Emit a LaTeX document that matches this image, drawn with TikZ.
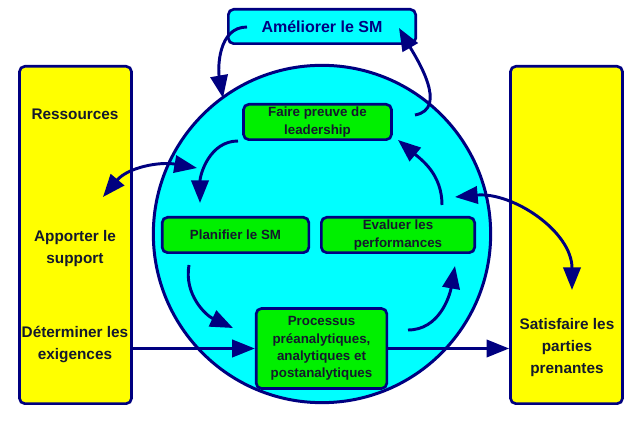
\documentclass[tikz,border=0pt]{standalone}
\usepackage{fontspec}
\setmainfont{Liberation Sans}
\usetikzlibrary{arrows.meta}
\definecolor{bleunuit}{RGB}{0,0,128}
\definecolor{cyanfond}{RGB}{0,255,255}
\definecolor{jaunefond}{RGB}{255,255,0}
\definecolor{vertfond}{RGB}{0,240,0}
\definecolor{textefonce}{RGB}{20,25,45}

\tikzset{
colonne/.style={draw=bleunuit,line width=2pt,fill=jaunefond,rounded corners=4pt,minimum width=84pt,minimum height=253pt},
etape/.style={draw=bleunuit,line width=2pt,fill=vertfond,rounded corners=4pt,minimum height=26.5pt,inner sep=2pt,align=center,text=textefonce,font=\fontsize{10}{13}\selectfont\bfseries},
libelle/.style={align=center,text=textefonce,font=\fontsize{11.5}{16.5}\selectfont\bfseries},
fleche/.style={draw=bleunuit,line width=2.2pt,-{Triangle[length=17pt,width=13pt]}},
doublefleche/.style={draw=bleunuit,line width=2.2pt,{Triangle[length=17pt,width=13pt]}-{Triangle[length=17pt,width=13pt]}}
}

\begin{document}
\begin{tikzpicture}[x=0.75pt,y=0.75pt]
\useasboundingbox (0,0) rectangle (637,421);

\node [colonne] (gauche) at (75.5,186) {};
\node [colonne] (droite) at (566.5,186) {};
\node [draw=bleunuit,line width=2.25pt,fill=cyanfond,circle,minimum size=253pt] (cercle) at (322,187) {};
\node [draw=bleunuit,line width=2pt,fill=cyanfond,rounded corners=4pt,minimum width=140.5pt,minimum height=25.75pt,text=bleunuit,font=\fontsize{12}{14}\selectfont\bfseries] (ameliorer) at (322,394.5) {Améliorer le SM};

\node [libelle] (ressources) at (75,307) {Ressources};
\node [libelle] (support) at (75,172) {Apporter le\\support};
\node [libelle] (exigences) at (75,76) {Déterminer les\\exigences};
\node [libelle] (satisfaire) at (567,73) {Satisfaire les\\parties\\prenantes};

\node [etape,minimum width=111pt] (leadership) at (317.5,299) {Faire preuve de\\leadership};
\node [etape,minimum width=110pt] (planifier) at (235.5,186) {Planifier le SM};
\node [etape,minimum width=115pt] (evaluer) at (398,186) {Evaluer les\\performances};
\node [etape,minimum width=98pt,minimum height=60pt] (processus) at (321.5,72.5) {Processus\\préanalytiques,\\analytiques et\\postanalytiques};

\coordinate (dA) at (247,394);
\coordinate (fA) at (223,323);
\coordinate (dB) at (415,306);
\coordinate (fB) at (399,393);
\coordinate (dC) at (238,280);
\coordinate (fC) at (200,218);
\coordinate (dD) at (442,216);
\coordinate (fD) at (398,281);
\coordinate (dE) at (189,156);
\coordinate (fE) at (233,93);
\coordinate (dF) at (408,91);
\coordinate (fF) at (455,155);
\coordinate (sG) at (103,224);
\coordinate (sD) at (197,253);
\coordinate (pG) at (455,224);
\coordinate (pD) at (572,131);

\draw [fleche] (dA) to[out=180,in=100] (fA);
\draw [fleche] (dB) to[out=10,in=-60] (fB);
\draw [fleche] (dC) to[out=180,in=90] (fC);
\draw [fleche] (dD) to[out=90,in=-40] (fD);
\draw [fleche] (dE) to[out=-100,in=155] (fE);
\draw [fleche] (dF) to[out=0,in=-100] (fF);
\draw [doublefleche] (sG) to[out=50,in=170] (sD);
\draw [doublefleche] (pG) to[out=5,in=90] (pD);
\draw [fleche] (processus.west -| gauche.east) -- (processus.west);
\draw [fleche] (processus.east) -- (processus.east -| droite.west);
\end{tikzpicture}
\end{document}
